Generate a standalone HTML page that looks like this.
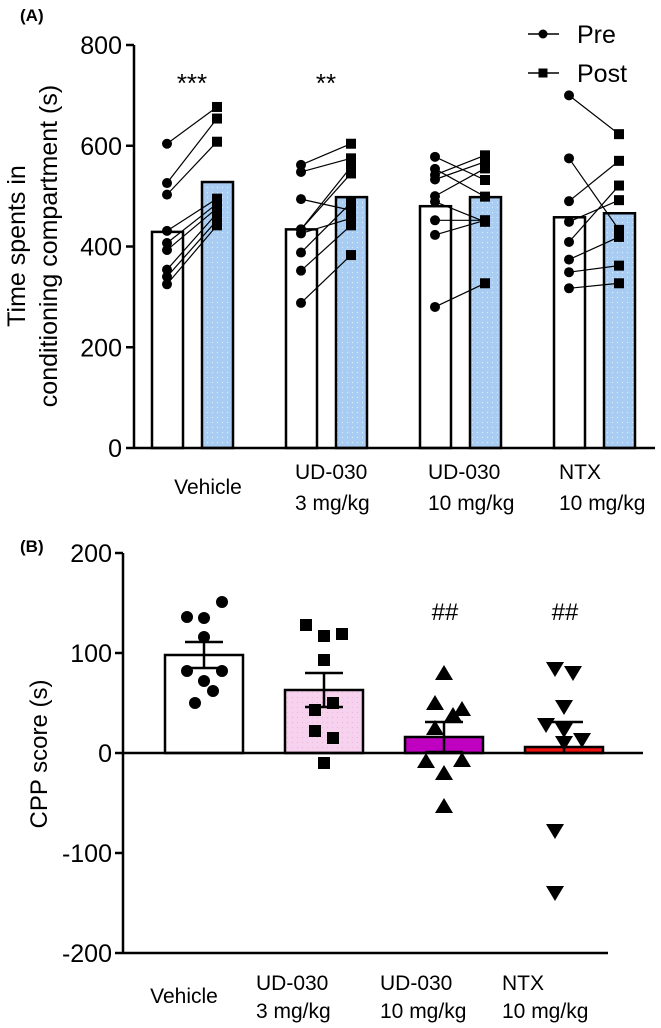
<!DOCTYPE html>
<html><head><meta charset="utf-8"><style>
html,body{margin:0;padding:0;background:#fff;}
svg{display:block;font-family:"Liberation Sans",Arial,sans-serif;}
</style></head><body>
<svg id="fig" width="661" height="1028" viewBox="0 0 661 1028">
<defs>
<pattern id="dotsBlue" width="5" height="5" patternUnits="userSpaceOnUse"><rect width="5" height="5" fill="#a9cdf2"/><circle cx="2.5" cy="2.5" r="0.6" fill="#dfeefc"/></pattern>
<pattern id="dotsPink" width="5" height="5" patternUnits="userSpaceOnUse"><rect width="5" height="5" fill="#f7d2ef"/><circle cx="2.5" cy="2.5" r="0.6" fill="#eab8e0"/></pattern>
</defs>
<g id="panelA"></g>
<g id="panelB"></g>
</svg>
<script>
// ---- Panel A data ----
const groupsA = ["Vehicle","UD-030|3 mg/kg","UD-030|10 mg/kg","NTX|10 mg/kg"];
const preMeans = [429, 434, 480, 458];
const postMeans = [528, 498, 498, 466];
const preVehicle = [604, 526, 503, 431, 407, 393, 354, 340, 325];
const postVehicle = [677, 654, 608, 495, 485, 476, 466, 452, 442];
const preUD3 = [562, 548, 494, 434, 434, 426, 388, 352, 288];
const postUD3 = [604, 575, 472, 558, 545, 456, 487, 442, 383];
const preUD10 = [578, 554, 542, 533, 500, 489, 452, 423, 280];
const postUD10 = [532, 499, 581, 568, 555, 449, 452, 452, 327];
const preNTX = [700, 575, 490, 449, 409, 374, 349, 317];
const postNTX = [623, 433, 570, 492, 521, 419, 362, 327];
const ticksA = [0, 200, 400, 600, 800];
const starsA = ["***", "**", "", ""];
// ---- Panel B data ----
const groupsB = ["Vehicle","UD-030|3 mg/kg","UD-030|10 mg/kg","NTX|10 mg/kg"];
const cppMeans = [98, 63, 16, 6];
const cppSEM = [13, 17, 15, 25];
const cppVehicle = [151, 136, 135, 116, 82, 82, 72, 62, 50];
const cppUD3 = [128, 117, 119, 93, 50, 43, 22, 15, -10];
const cppUD10 = [80, 50, 44, 38, 25, -8, -7, -20, -53];
const cppNTX = [84, 80, 46, 28, 23, 13, 10, -78, -140];
const ticksB = [-200, -100, 0, 100, 200];
const hashB = ["", "", "##", "##"];

const NS = "http://www.w3.org/2000/svg";
function mk(tag, attrs, parent){const e=document.createElementNS(NS,tag);for(const k in attrs)e.setAttribute(k,attrs[k]);parent.appendChild(e);return e;}

// ---------- Panel A ----------
const A = document.getElementById("panelA");
const yA = v => 448 - v*(403/800);
const preX = i => 167 + i*134;
const postX = i => 217 + i*134;
const lbl = mk("text",{x:20,y:21,"font-size":17,"font-weight":"bold"},A); lbl.textContent="(A)";


const axA = mk("line",{x1:134,y1:yA(800),x2:134,y2:448,stroke:"#000","stroke-width":2.5},A);


ticksA.forEach(t=>{
  const tk = mk("line",{x1:126,x2:134,y1:yA(t),y2:yA(t),stroke:"#000","stroke-width":2.5},A);
  
  
  const tx = mk("text",{x:122,y:yA(t)+9,"font-size":25,"text-anchor":"end"},A); tx.textContent=t;
  
  
});
const ttl = mk("text",{transform:"translate(40,246) rotate(-90)","font-size":25,"text-anchor":"middle"},A);


const t1=mk("tspan",{x:0,y:-15},ttl); t1.textContent="Time spents in";
const t2=mk("tspan",{x:0,y:17},ttl); t2.textContent="conditioning compartment (s)";

const preSets=[preVehicle,preUD3,preUD10,preNTX], postSets=[postVehicle,postUD3,postUD10,postNTX];
groupsA.forEach((g,i)=>{
  const b1 = mk("rect",{x:preX(i)-15,y:yA(preMeans[i]),width:31,height:448-yA(preMeans[i]),fill:"#fff",stroke:"#000","stroke-width":2.5},A);
  
  
  const b2 = mk("rect",{x:postX(i)-15,y:yA(postMeans[i]),width:31,height:448-yA(postMeans[i]),fill:"url(#dotsBlue)",stroke:"#000","stroke-width":2.5},A);
  
  
  const pre=preSets[i], post=postSets[i];
  for(let k=0;k<pre.length;k++){
    const ln = mk("line",{x1:preX(i),y1:yA(pre[k]),x2:postX(i),y2:yA(post[k]),stroke:"#000","stroke-width":1.2},A);
    
    
  }
  for(let k=0;k<pre.length;k++){
    const c = mk("circle",{cx:preX(i),cy:yA(pre[k]),r:5,fill:"#000"},A);
    
    
    const s = mk("rect",{x:postX(i)-5,y:yA(post[k])-5,width:10,height:10,fill:"#000"},A);
    
    
  }
  if(starsA[i]){const st=mk("text",{x:(preX(i)+postX(i))/2,y:92,"font-size":26,"text-anchor":"middle"},A); st.textContent=starsA[i];
    
    }
  const parts=g.split("|");
  const gx = parts.length===1 ? 208 : [0,295,428,559][i];
  const lt = mk("text",{x:gx,"font-size":21,"text-anchor":parts.length===1?"middle":"start"},A);
  
  
  if(parts.length===1){const s=mk("tspan",{x:gx,y:494},lt); s.textContent=parts[0];}
  else {const s1=mk("tspan",{x:gx,y:479},lt); s1.textContent=parts[0]; const s2=mk("tspan",{x:gx,y:510},lt); s2.textContent=parts[1];}
});
const xA = mk("line",{x1:134,y1:448,x2:655,y2:448,stroke:"#000","stroke-width":2.5},A);


// legend
[["Pre",34,"c"],["Post",73,"s"]].forEach(([n,y,m])=>{
  const g=mk("g",{},A);
  
  
  mk("line",{x1:528,x2:559,y1:y,y2:y,stroke:"#000","stroke-width":1.5},g);
  if(m==="c") mk("circle",{cx:543,cy:y,r:4.5,fill:"#000"},g); else mk("rect",{x:538.5,y:y-4.5,width:9,height:9,fill:"#000"},g);
  const t=mk("text",{x:577,y:y+9,"font-size":25},g); t.textContent=n;
});

// ---------- Panel B ----------
const B = document.getElementById("panelB");
const yB = v => 753 - v*1.0;
const cx = i => 204 + i*120;
const lb = mk("text",{x:20,y:552,"font-size":17,"font-weight":"bold"},B); lb.textContent="(B)";


const axB = mk("line",{x1:123,y1:yB(200),x2:123,y2:yB(-200),stroke:"#000","stroke-width":2.5},B);


ticksB.forEach(t=>{
  const tk=mk("line",{x1:115,x2:123,y1:yB(t),y2:yB(t),stroke:"#000","stroke-width":2.5},B);
  
  
  const tx=mk("text",{x:112,y:yB(t)+9,"font-size":25,"text-anchor":"end"},B); tx.textContent=t;
  
  
});
const ttlB=mk("text",{transform:"translate(47,754) rotate(-90)","font-size":24,"text-anchor":"middle"},B); ttlB.textContent="CPP score (s)";


const fills=["#fff","url(#dotsPink)","#c000c0","#ee1111"];
const sets=[cppVehicle,cppUD3,cppUD10,cppNTX];
const offs=[18,-17,0,0,-17,18,0,9,-9];
const offs2=[-18,0,18,0,9,-9,-9,9,0];
const offs3=[0,-9,18,9,-9,-18,18,0,0];
const offs4=[-9,9,0,-18,0,18,0,-9,-9];
const offsAll=[offs,offs2,offs3,offs4];
groupsB.forEach((g,i)=>{
  const m=cppMeans[i];
  const top=Math.min(yB(m),yB(0)), h=Math.abs(yB(m)-yB(0));
  const b=mk("rect",{x:cx(i)-39,y:top,width:78,height:Math.max(h,1),fill:fills[i],stroke:"#000","stroke-width":2.5},B);
  
  
  const eg=mk("g",{stroke:"#000","stroke-width":2.5},B);
  
  
  const lo = Math.max(m-cppSEM[i], 0);
  mk("line",{x1:cx(i),x2:cx(i),y1:yB(m+cppSEM[i]),y2:yB(lo)},eg);
  mk("line",{x1:cx(i)-19,x2:cx(i)+19,y1:yB(m+cppSEM[i]),y2:yB(m+cppSEM[i])},eg);
  if(m-cppSEM[i]>0) mk("line",{x1:cx(i)-19,x2:cx(i)+19,y1:yB(m-cppSEM[i]),y2:yB(m-cppSEM[i])},eg);
  sets[i].forEach((v,k)=>{
    const x=cx(i)+offsAll[i][k], y=yB(v);
    let p;
    if(i===0) p=mk("circle",{cx:x,cy:y,r:6,fill:"#000"},B);
    else if(i===1) p=mk("rect",{x:x-6,y:y-6,width:12,height:12,fill:"#000"},B);
    else if(i===2) p=mk("polygon",{points:`${x},${y-8} ${x-9},${y+7} ${x+9},${y+7}`,fill:"#000"},B);
    else p=mk("polygon",{points:`${x},${y+8} ${x-9},${y-7} ${x+9},${y-7}`,fill:"#000"},B);
    
    
  });
  if(hashB[i]){const h2=mk("text",{x:cx(i)+1,y:620,"font-size":24,"text-anchor":"middle"},B); h2.textContent=hashB[i];
    
    }
  const parts=g.split("|");
  const gx = parts.length===1 ? 184 : [0,256,380,502][i];
  const lt=mk("text",{x:gx,"font-size":21,"text-anchor":parts.length===1?"middle":"start"},B);
  
  
  if(parts.length===1){const s=mk("tspan",{x:gx,y:1003},lt); s.textContent=parts[0];}
  else {const s1=mk("tspan",{x:gx,y:990},lt); s1.textContent=parts[0]; const s2=mk("tspan",{x:gx,y:1018},lt); s2.textContent=parts[1];}
});
const xB=mk("line",{x1:123,y1:yB(0),x2:643,y2:yB(0),stroke:"#000","stroke-width":2.5},B);


const xB2=mk("line",{x1:123,y1:yB(-200),x2:608,y2:yB(-200),stroke:"#000","stroke-width":2.5},B);


</script>
</body></html>
